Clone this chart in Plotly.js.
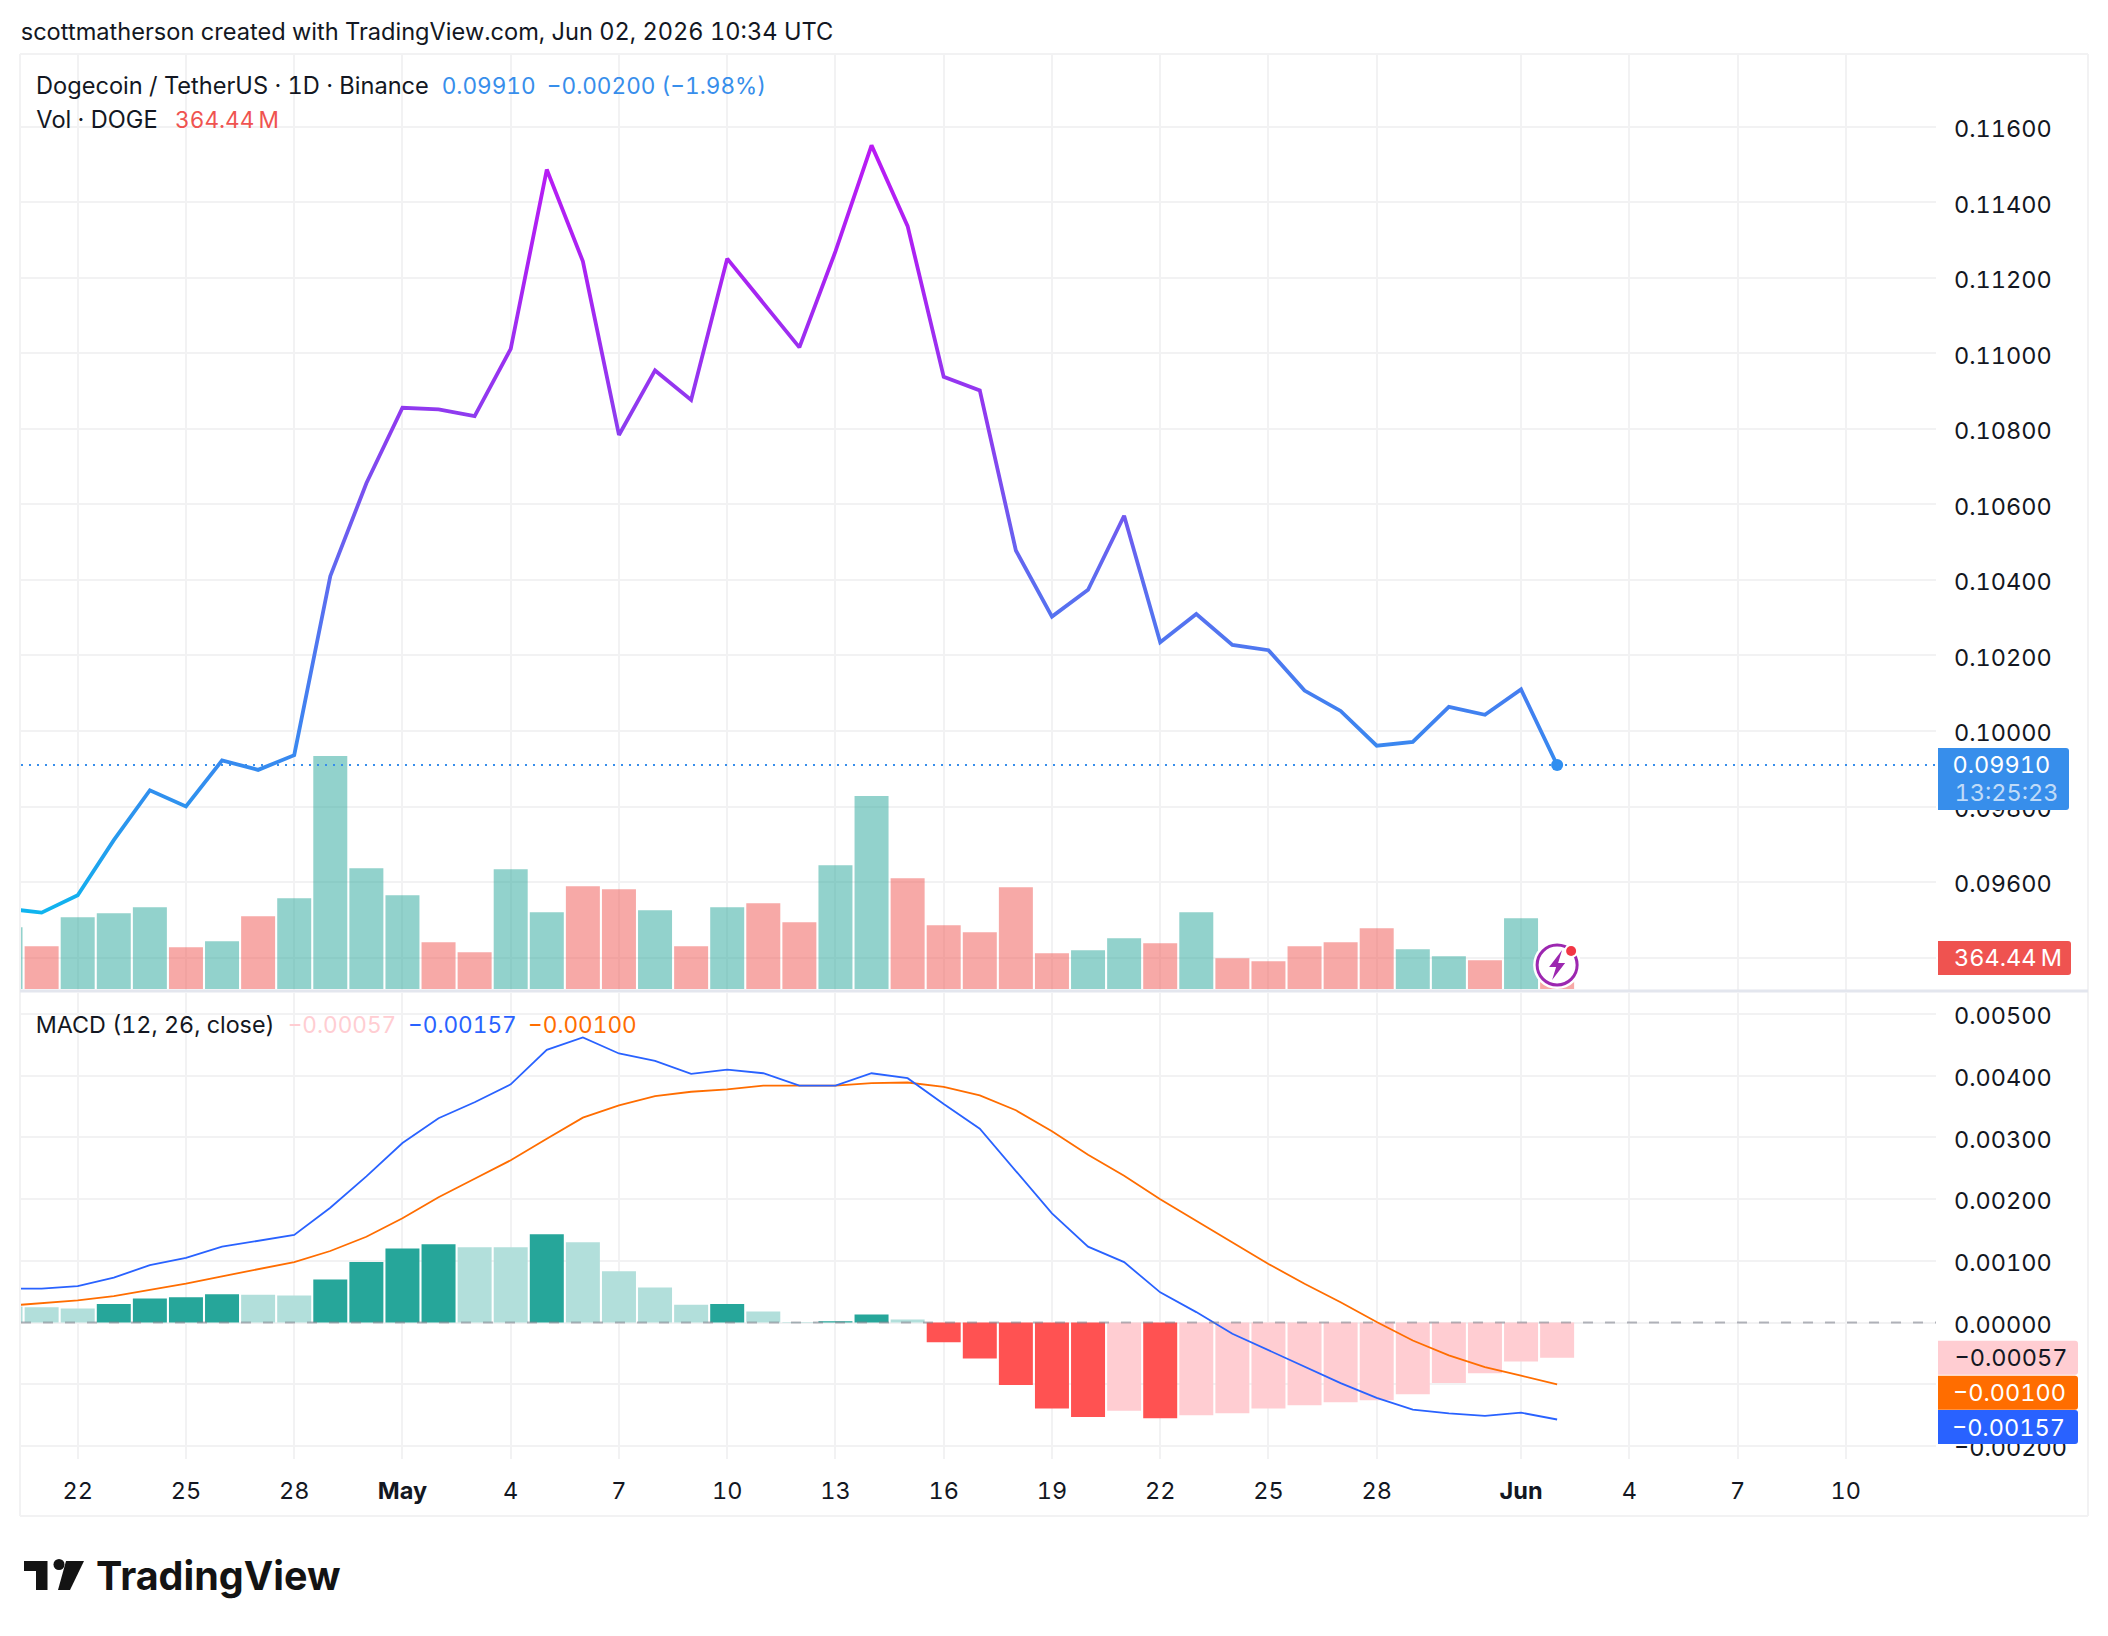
<!DOCTYPE html>
<html>
<head>
<meta charset="utf-8">
<title>DOGEUSDT</title>
<script src="https://cdn.plot.ly/plotly-3.0.1.min.js"></script>
<style>
    html, body { margin: 0; padding: 0; background: #ffffff; }
    .main-svg text { font-variant-numeric: tabular-nums; font-feature-settings: "tnum"; }
</style>
</head>
<body>
<div id="chart" style="width:2108px;height:1636px"></div>
<script>
const days = [
    '2026-04-20', '2026-04-21', '2026-04-22', '2026-04-23', '2026-04-24', '2026-04-25', '2026-04-26', '2026-04-27', '2026-04-28', '2026-04-29', '2026-04-30',
    '2026-05-01', '2026-05-02', '2026-05-03', '2026-05-04', '2026-05-05', '2026-05-06', '2026-05-07', '2026-05-08', '2026-05-09', '2026-05-10',
    '2026-05-11', '2026-05-12', '2026-05-13', '2026-05-14', '2026-05-15', '2026-05-16', '2026-05-17', '2026-05-18', '2026-05-19', '2026-05-20',
    '2026-05-21', '2026-05-22', '2026-05-23', '2026-05-24', '2026-05-25', '2026-05-26', '2026-05-27', '2026-05-28', '2026-05-29', '2026-05-30', '2026-05-31',
    '2026-06-01', '2026-06-02',
];

const closes = [
    0.09530, 0.09519, 0.09565, 0.09711, 0.09843, 0.09800, 0.09922, 0.09897, 0.09936, 0.10410, 0.10656,
    0.10856, 0.10852, 0.10834, 0.11012, 0.11487, 0.11244, 0.10784, 0.10955, 0.10877, 0.11251,
    0.11134, 0.11016, 0.11270, 0.11551, 0.11337, 0.10938, 0.10902, 0.10478, 0.10303, 0.10374,
    0.10570, 0.10235, 0.10310, 0.10228, 0.10214, 0.10107, 0.10053, 0.09961, 0.09971, 0.10064, 0.10043,
    0.10110, 0.09910,
];

// millions of DOGE
const volumes = [
    725, 502, 843, 890, 960, 490, 561, 855, 1066, 2736, 1419,
    1102, 549, 431, 1407, 902, 1207, 1172, 925, 502, 960,
    1007, 784, 1454, 2266, 1301, 749, 666, 1196, 419, 455,
    596, 537, 902, 361, 325, 502, 549, 713, 466, 384, 337,
    831, 364.44,
];

const macdLine = [
    0.00055, 0.00055, 0.00059, 0.00073, 0.00093, 0.00105, 0.00123, 0.00133, 0.00142, 0.00186, 0.00237,
    0.00291, 0.00331, 0.00357, 0.00386, 0.00442, 0.00462, 0.00436, 0.00424, 0.00403, 0.00410,
    0.00404, 0.00384, 0.00384, 0.00404, 0.00396, 0.00354, 0.00314, 0.00246, 0.00177, 0.00123,
    0.00098, 0.00049, 0.00017, -0.00018, -0.00045, -0.00072, -0.00098, -0.00122, -0.00141, -0.00147, -0.00151,
    -0.00146, -0.00157,
];

const signalLine = [
    0.00027, 0.00031, 0.00036, 0.00043, 0.00053, 0.00063, 0.00075, 0.00086, 0.00098, 0.00116, 0.00139,
    0.00169, 0.00203, 0.00233, 0.00263, 0.00298, 0.00332, 0.00352, 0.00367, 0.00374, 0.00378,
    0.00384, 0.00384, 0.00384, 0.00388, 0.00389, 0.00382, 0.00368, 0.00344, 0.00310, 0.00272,
    0.00238, 0.00200, 0.00165, 0.00130, 0.00095, 0.00063, 0.00033, 0.00001, -0.00029, -0.00053, -0.00072,
    -0.00086, -0.00100,
];

const histogram = [
    0.00026, 0.00025, 0.00023, 0.00030, 0.00039, 0.00041, 0.00046, 0.00045, 0.00044, 0.00070, 0.00098,
    0.00120, 0.00127, 0.00122, 0.00122, 0.00143, 0.00130, 0.00083, 0.00057, 0.00029, 0.00030,
    0.00018, 0.00001, 0.00002, 0.00013, 0.00005, -0.00032, -0.00058, -0.00101, -0.00139, -0.00153,
    -0.00143, -0.00155, -0.00150, -0.00147, -0.00139, -0.00134, -0.00129, -0.00126, -0.00116, -0.00098, -0.00082,
    -0.00063, -0.00057,
];

const dateTickValues = [
    '2026-04-22', '2026-04-25', '2026-04-28', '2026-05-01', '2026-05-04', '2026-05-07', '2026-05-10', '2026-05-13',
    '2026-05-16', '2026-05-19', '2026-05-22', '2026-05-25', '2026-05-28', '2026-06-01', '2026-06-04', '2026-06-07', '2026-06-10',
];
const dateTickLabels = ['22', '25', '28', '<b>May</b>', '4', '7', '10', '13', '16', '19', '22', '25', '28', '<b>Jun</b>', '4', '7', '10'];

const priceTicks = [0.094, 0.096, 0.098, 0.100, 0.102, 0.104, 0.106, 0.108, 0.110, 0.112, 0.114, 0.116];
const macdTicks = [-0.002, -0.001, 0, 0.001, 0.002, 0.003, 0.004, 0.005];

const WIDTH = 2108;
const HEIGHT = 1636;
const FONT = 'Inter, "Liberation Sans", sans-serif';
const INK = '#131722';
const GRID = '#f2f2f3';
const BLUE_TEXT = '#378eeb';
const AXIS_SIZE = 23.5;
const LEGEND_SIZE = 23.6;
const LEGEND_NUMBER_SIZE = 22.6;

const fx = px => px / WIDTH;
const fy = py => 1 - py / HEIGHT;

const volumeColors = closes.map((c, i) => (i === 0 || c >= closes[i - 1]) ? 'rgba(38,166,154,0.5)' : 'rgba(239,83,80,0.5)');
const histColors = histogram.map((h, i) => {
    const rising = i > 0 && h > histogram[i - 1];
    if (h >= 0) return rising ? '#26a69a' : '#b2dfdb';
    return rising ? '#ffcdd2' : '#ff5252';
});

const traces = [
    {
        type: 'bar', x: days, y: volumes, xaxis: 'x2', yaxis: 'y2',
        marker: { color: volumeColors, line: { width: 0 } }, hoverinfo: 'skip',
    },
    {
        type: 'scatter', mode: 'lines', x: days, y: closes, xaxis: 'x2', yaxis: 'y3',
        line: { color: '#3d84f0', width: 3.8 }, hoverinfo: 'skip',
    },
    {
        type: 'scatter', mode: 'markers', x: days.slice(-1), y: closes.slice(-1), xaxis: 'x2', yaxis: 'y3',
        marker: { color: '#2f8ff0', size: 12 }, hoverinfo: 'skip',
    },
    {
        type: 'bar', x: days, y: histogram, xaxis: 'x', yaxis: 'y',
        marker: { color: histColors, line: { width: 0 } }, hoverinfo: 'skip',
    },
    {
        type: 'scatter', mode: 'lines', x: days, y: signalLine, xaxis: 'x', yaxis: 'y',
        line: { color: '#ff6d00', width: 1.8 }, hoverinfo: 'skip',
    },
    {
        type: 'scatter', mode: 'lines', x: days, y: macdLine, xaxis: 'x', yaxis: 'y',
        line: { color: '#2962ff', width: 1.8 }, hoverinfo: 'skip',
    },
];

const xRange = ['2026-04-20 10:17', '2026-06-12 12:00'];
const xDomain = [fx(21), fx(1936)];

const baseX = {
    type: 'date',
    range: xRange,
    domain: xDomain,
    tickmode: 'array',
    tickvals: dateTickValues,
    showgrid: true,
    gridcolor: GRID,
    gridwidth: 2,
    zeroline: false,
    showline: false,
    ticks: '',
};

const baseY = {
    side: 'right',
    tickmode: 'array',
    showgrid: true,
    gridcolor: GRID,
    gridwidth: 2,
    zeroline: false,
    showline: false,
    ticks: '',
    tickformat: '.5f',
    ticklabelstandoff: 17,
    ticklabelshift: 2,
    tickfont: { family: FONT, size: AXIS_SIZE, color: INK },
};

function tagShape(yref, value, shiftPx, halfHeight, width, color) {
    // rounded tag to the right of the plot, anchored on the value
    const r = 3, x0 = 1938, x1 = 1938 + width;
    const top = shiftPx + halfHeight, bot = shiftPx - halfHeight;
    return {
        type: 'path', xref: 'paper', yref, xsizemode: 'pixel', ysizemode: 'pixel', xanchor: 0, yanchor: value,
        path: `M${x0},${top} L${x1 - r},${top} Q${x1},${top} ${x1},${top - r} L${x1},${bot + r} Q${x1},${bot} ${x1 - r},${bot} L${x0},${bot} Z`,
        fillcolor: color, line: { width: 0 }, layer: 'above',
    };
}

function tagText(yref, value, shiftPx, text, color, px = 1955) {
    return {
        xref: 'paper', yref, x: fx(px), y: value, yshift: shiftPx, xanchor: 'left', yanchor: 'middle', showarrow: false,
        text, font: { family: FONT, size: AXIS_SIZE, color },
    };
}

function legendText(px, py, text, color = INK, size = LEGEND_SIZE) {
    return {
        xref: 'paper', yref: 'paper', x: fx(px), y: fy(py), xanchor: 'left', yanchor: 'middle', showarrow: false,
        text, font: { family: FONT, size, color },
    };
}

function frameLine(x0, y0, x1, y1, color = '#f2f2f3', width = 2) {
    return { type: 'line', xref: 'paper', yref: 'paper', x0: fx(x0), y0: fy(y0), x1: fx(x1), y1: fy(y1), line: { color, width }, layer: 'above' };
}

// last bar badge, sits on the volume value of the last day
const lastDay = days[days.length - 1];
const lastVolume = volumes[volumes.length - 1];
function badgeCircle(dx, dy, r, fill, lineColor, lineWidth) {
    return {
        type: 'circle', xref: 'x2', yref: 'y2', xsizemode: 'pixel', ysizemode: 'pixel', xanchor: lastDay, yanchor: lastVolume,
        x0: dx - r, x1: dx + r, y0: dy - r, y1: dy + r,
        fillcolor: fill, line: { color: lineColor, width: lineWidth }, layer: 'above',
    };
}

const logoPath = pts => pts.map(([x, y], i) => `${i ? 'L' : 'M'}${fx(x)},${fy(y)}`).join(' ') + ' Z';

const shapes = [
    // outer frame
    frameLine(20, 54, 2088, 54),
    frameLine(20, 54, 20, 1516),
    frameLine(2088, 54, 2088, 1516),
    frameLine(20, 1516, 2088, 1516),
    // pane separator
    frameLine(20, 991, 2088, 991, '#e3e6ee', 3),
    // zero line of the MACD
    {
        type: 'line', xref: 'paper', yref: 'y', x0: fx(21), x1: fx(1936), y0: 0, y1: 0,
        line: { color: 'rgba(120,123,134,0.55)', width: 2, dash: '10px,12px' }, layer: 'above',
    },
    // last price line
    {
        type: 'line', xref: 'paper', yref: 'y3', x0: fx(21), x1: fx(1936), y0: closes[closes.length - 1], y1: closes[closes.length - 1],
        line: { color: '#378eeb', width: 2, dash: '2px,6px' }, layer: 'above',
    },
    tagShape('y3', closes[closes.length - 1], -14, 31, 131, '#378eeb'),
    tagShape('y2', lastVolume, 0, 17, 133, '#ef5350'),
    tagShape('y', histogram[histogram.length - 1], 0, 17, 140, '#ffcdd2'),
    tagShape('y', signalLine[signalLine.length - 1], -8.5, 17, 140, '#ff6d00'),
    tagShape('y', macdLine[macdLine.length - 1], -7.5, 17, 140, '#2962ff'),
    // badge
    badgeCircle(0, -7, 24, '#ffffff', '#ffffff', 0),
    badgeCircle(0, -7, 20, '#ffffff', '#9c27b0', 3),
    badgeCircle(14, 7, 7, '#ffffff', '#ffffff', 0),
    badgeCircle(14, 7, 5, '#f23645', '#f23645', 0),
    {
        type: 'path', xref: 'x2', yref: 'y2', xsizemode: 'pixel', ysizemode: 'pixel', xanchor: lastDay, yanchor: lastVolume,
        path: 'M5,8 L-8,-9 L-1,-9 L-5,-22 L8,-5 L1,-5 Z',
        fillcolor: '#9c27b0', line: { width: 0 }, layer: 'above',
    },
    // TradingView mark
    {
        type: 'path', xref: 'paper', yref: 'paper', line: { width: 0 }, fillcolor: '#131313', layer: 'above',
        path: logoPath([[24, 1561], [47.5, 1561], [47.5, 1590], [36, 1590], [36, 1571], [24, 1571]]),
    },
    {
        type: 'path', xref: 'paper', yref: 'paper', line: { width: 0 }, fillcolor: '#131313', layer: 'above',
        path: logoPath([[66, 1561], [84, 1561], [70, 1590], [58, 1590]]),
    },
    {
        type: 'circle', xref: 'paper', yref: 'paper', line: { width: 0 }, fillcolor: '#131313', layer: 'above',
        x0: fx(53.5), x1: fx(64.5), y0: fy(1570), y1: fy(1559),
    },
];

const annotations = [
    legendText(22.5, 32, 'scottmatherson created with TradingView.com, Jun 02, 2026 10:34 UTC'),
    legendText(36, 86, 'Dogecoin / TetherUS · 1D · Binance'),
    legendText(444, 86, '0.09910', BLUE_TEXT, LEGEND_NUMBER_SIZE),
    legendText(550, 86, '−0.00200 (−1.98%)', BLUE_TEXT, LEGEND_NUMBER_SIZE),
    legendText(34, 119, 'Vol · DOGE'),
    legendText(174, 119, '364.44\u2009M', '#ef5350', LEGEND_NUMBER_SIZE),
    legendText(38, 1024, 'MACD (12, 26, close)', INK, 23.3),
    legendText(288, 1024, '−0.00057', '#ffcdd2', LEGEND_NUMBER_SIZE),
    legendText(411, 1024, '−0.00157', '#2962ff', LEGEND_NUMBER_SIZE),
    legendText(530, 1024, '−0.00100', '#ff6d00', LEGEND_NUMBER_SIZE),
    tagText('y3', closes[closes.length - 1], 0, '0.09910', '#ffffff'),
    tagText('y3', closes[closes.length - 1], -28, '13:25:23', 'rgba(255,255,255,0.7)', 1957),
    tagText('y2', lastVolume, 0, '364.44\u2009M', '#ffffff', 1953),
    tagText('y', histogram[histogram.length - 1], 0, '−0.00057', '#131722'),
    tagText('y', signalLine[signalLine.length - 1], -8.5, '−0.00100', '#ffffff'),
    tagText('y', macdLine[macdLine.length - 1], -7.5, '−0.00157', '#ffffff'),
    {
        xref: 'paper', yref: 'paper', x: fx(94), y: fy(1576), xanchor: 'left', yanchor: 'middle', showarrow: false,
        text: 'TradingView', font: { family: FONT, size: 39.5, color: '#131313', weight: 700 },
    },
];

const layout = {
    width: WIDTH,
    height: HEIGHT,
    margin: { l: 0, r: 0, t: 0, b: 0 },
    paper_bgcolor: '#ffffff',
    plot_bgcolor: '#ffffff',
    showlegend: false,
    hovermode: false,
    bargap: 0.058,
    xaxis: {
        ...baseX,
        anchor: 'y',
        ticktext: dateTickLabels,
        ticklabelstandoff: 15,
        tickfont: { family: FONT, size: AXIS_SIZE, color: INK },
        tickangle: 0,
    },
    xaxis2: { ...baseX, anchor: 'y3', showticklabels: false },
    yaxis: {
        ...baseY,
        domain: [fy(1459), fy(993)],
        range: [-0.00221, 0.00534],
        tickvals: macdTicks,
        anchor: 'x',
    },
    // volume sits under the price in the same pane
    yaxis2: {
        domain: [fy(990), fy(54)],
        range: [-12, 10984],
        anchor: 'x2',
        side: 'left',
        showgrid: false,
        zeroline: false,
        showticklabels: false,
        showline: false,
        ticks: '',
    },
    yaxis3: {
        ...baseY,
        domain: [fy(990), fy(54)],
        range: [0.09314, 0.11793],
        tickvals: priceTicks,
        overlaying: 'y2',
        anchor: 'x2',
    },
    shapes,
    annotations,
};

const gradientStops = [
    [0.0950, '#0db7ef'],
    [0.0975, '#2a96ee'],
    [0.1000, '#3d84f0'],
    [0.1040, '#5d6cf0'],
    [0.1080, '#8c3def'],
    [0.1120, '#a824f2'],
    [0.1160, '#bd1af5'],
];

function paintPriceGradient(gd) {
    const path = gd.querySelector('.x2y3 .js-line');
    if (!path) return;
    const yAxis = gd._fullLayout.yaxis3;
    const ns = 'http://www.w3.org/2000/svg';
    const grad = document.createElementNS(ns, 'linearGradient');
    grad.setAttribute('id', 'priceGradient');
    grad.setAttribute('gradientUnits', 'userSpaceOnUse');
    grad.setAttribute('x1', 0);
    grad.setAttribute('x2', 0);
    grad.setAttribute('y1', yAxis.l2p(gradientStops[0][0]));
    grad.setAttribute('y2', yAxis.l2p(gradientStops[gradientStops.length - 1][0]));
    const v0 = gradientStops[0][0];
    const v1 = gradientStops[gradientStops.length - 1][0];
    for (const [value, color] of gradientStops) {
        const stop = document.createElementNS(ns, 'stop');
        stop.setAttribute('offset', (value - v0) / (v1 - v0));
        stop.setAttribute('stop-color', color);
        grad.appendChild(stop);
    }
    gd.querySelector('.main-svg defs').appendChild(grad);
    path.style.stroke = 'url(#priceGradient)';
}

Plotly.newPlot('chart', traces, layout, { displayModeBar: false, responsive: false, staticPlot: true })
    .then(paintPriceGradient);
</script>
</body>
</html>
